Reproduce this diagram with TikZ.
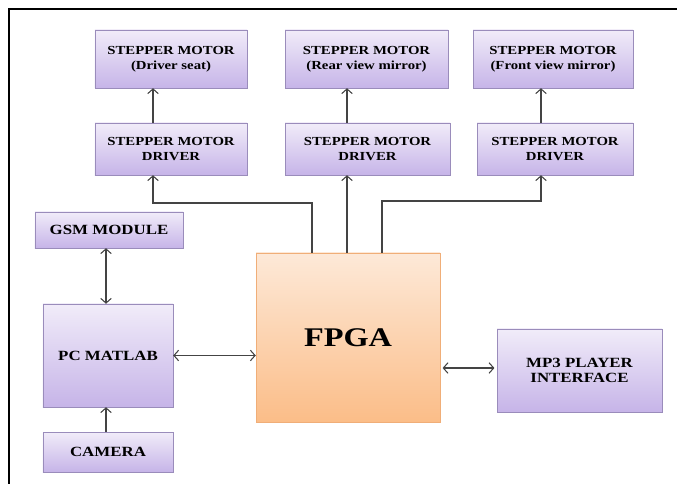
\documentclass[tikz,border=0pt]{standalone}
\usepackage{fontspec}
\setmainfont{Liberation Serif}
\newfontfamily\blockfont[FakeStretch=1.2]{Liberation Serif}
\usetikzlibrary{arrows.meta,shadows}

\definecolor{boxtop}{HTML}{F1ECF9}
\definecolor{boxbot}{HTML}{C6B4E8}
\definecolor{boxline}{HTML}{9A8CBB}
\definecolor{fpgatop}{HTML}{FDE9D8}
\definecolor{fpgabot}{HTML}{FBBD88}
\definecolor{fpgaline}{HTML}{F0AE78}
\definecolor{wire}{HTML}{444444}

\tikzset{
  block/.style={draw=boxline, top color=boxtop, bottom color=boxbot,
    align=center, inner sep=2pt,
    font=\blockfont\bfseries\fontsize{10.5}{13}\selectfont,
    drop shadow={shadow xshift=1.2pt, shadow yshift=-1.2pt, opacity=0.35}},
  bigblock/.style={block, font=\blockfont\bfseries\fontsize{12}{13.5}\selectfont},
  fpgablock/.style={draw=fpgaline, top color=fpgatop, bottom color=fpgabot,
    font=\blockfont\bfseries\fontsize{23}{26}\selectfont,
    drop shadow={shadow xshift=1.2pt, shadow yshift=-1.2pt, opacity=0.3}},
  wire/.style={draw=wire, line width=0.9pt},
  arr/.style={wire, -{Straight Barb[length=4pt,width=9pt]}},
  darr/.style={wire, {Straight Barb[length=4pt,width=9pt]}-{Straight Barb[length=4pt,width=9pt]}}
}

\begin{document}
\begin{tikzpicture}[x=0.03cm, y=-0.03cm]
        \useasboundingbox (0,0) rectangle (677,484);
        \draw[line width=1.6pt] (9,484) -- (9,9) -- (677,9);

        % stepper motors
        \node[block, minimum width=4.56cm, minimum height=1.74cm] (sma) at (171,59) {STEPPER MOTOR\\(Driver seat)};
        \node[block, minimum width=4.89cm, minimum height=1.74cm] (smb) at (366.5,59) {STEPPER MOTOR\\(Rear view mirror)};
        \node[block, minimum width=4.80cm, minimum height=1.74cm] (smc) at (553,59) {STEPPER MOTOR\\(Front view mirror)};

        % drivers
        \node[block, minimum width=4.56cm, minimum height=1.56cm] (drva) at (171,149) {STEPPER MOTOR\\DRIVER};
        \node[block, minimum width=4.95cm, minimum height=1.56cm] (drvb) at (367.5,149) {STEPPER MOTOR\\DRIVER};
        \node[block, minimum width=4.68cm, minimum height=1.56cm] (drvc) at (555,149) {STEPPER MOTOR\\DRIVER};

        % left column
        \node[bigblock, minimum width=4.44cm, minimum height=1.08cm] (gsm) at (109,230) {GSM MODULE};
        \node[bigblock, minimum width=3.90cm, minimum height=3.09cm] (pc) at (108,355.5) {PC MATLAB};
        \node[bigblock, minimum width=3.90cm, minimum height=1.20cm] (cam) at (108,452) {CAMERA};

        % centre and right
        \node[fpgablock, minimum width=5.52cm, minimum height=5.07cm] (fpga) at (348,337.5) {FPGA};
        \node[bigblock, minimum width=4.95cm, minimum height=2.49cm] (mp3) at (579.5,370.5) {MP3 PLAYER\\INTERFACE};

        % routing points
        \coordinate (xa) at (153,0);
        \coordinate (xb) at (347,0);
        \coordinate (xc) at (541,0);
        \coordinate (fa) at (312,0);
        \coordinate (fc) at (382,0);
        \coordinate (xl) at (106,0);

        \draw[arr] (drva.north -| xa) -- (sma.south -| xa);
        \draw[arr] (drvb.north -| xb) -- (smb.south -| xb);
        \draw[arr] (drvc.north -| xc) -- (smc.south -| xc);

        \draw[arr] (fpga.north -| fa) |- (153,203) -- (drva.south -| xa);
        \draw[arr] (fpga.north -| xb) -- (drvb.south -| xb);
        \draw[arr] (fpga.north -| fc) |- (541,201) -- (drvc.south -| xc);

        \draw[darr] (gsm.south -| xl) -- (pc.north -| xl);
        \draw[arr] (cam.north -| xl) -- (pc.south -| xl);
        \draw[darr] (pc.east) -- (fpga.west |- pc.east);
        \draw[darr] ([xshift=2pt]fpga.east |- 0,368) -- ([xshift=-2pt]mp3.west |- 0,368);
\end{tikzpicture}
\end{document}
